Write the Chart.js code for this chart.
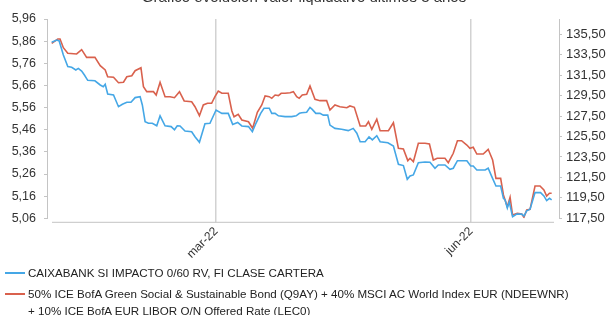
<!DOCTYPE html>
<html>
<head>
<meta charset="utf-8">
<script src="https://cdn.jsdelivr.net/npm/chart.js@4"></script>
<style>
  html, body { margin: 0; padding: 0; background: #fff; }
  body { width: 608px; height: 315px; overflow: hidden; position: relative; font-family: "Liberation Sans", Arial, sans-serif; }
  #wrap { position: absolute; left: 0; top: -11px; width: 608px; height: 280px; }
  #legend { position: absolute; left: 0; top: 264px; width: 608px; font-size: 11.6px; color: #222; }
  .item { position: relative; padding-left: 28px; line-height: 17px; margin-bottom: 4px; white-space: pre-line; }
  .swatch { position: absolute; left: 5px; top: 8px; width: 20px; height: 2px; }
</style>
</head>
<body>
<div id="wrap"><canvas id="chart" width="608" height="280"></canvas></div>
<div id="legend"></div>
<script>
// x = days since 1 Jan 2022
const xTickDays = [59, 151];
const xTickLabels = ["mar-22", "jun-22"];
const leftTicks = [5.06, 5.16, 5.26, 5.36, 5.46, 5.56, 5.66, 5.76, 5.86, 5.96];
const rightTicks = [117.5, 119.5, 121.5, 123.5, 125.5, 127.5, 129.5, 131.5, 133.5, 135.5];

const fundName = "CAIXABANK SI IMPACTO 0/60 RV, FI CLASE CARTERA";
const benchName = "50% ICE BofA Green Social & Sustainable Bond (Q9AY) + 40% MSCI AC World Index EUR (NDEEWNR)\n+ 10% ICE BofA EUR LIBOR O/N Offered Rate (LEC0)";

const fundDays = [-0.3,1.5,2.4,3.9,5.5,6.9,8.4,9.3,10.5,11.5,12.7,15.3,17.2,18.3,19.0,19.9,22.0,23.8,25.2,26.8,28.3,29.8,31.6,32.4,33.4,34.6,36.0,37.6,38.8,40.6,42.8,44.0,45.0,46.0,47.8,50.2,51.4,53.0,55.0,56.8,59.0,61.1,63.4,65.0,66.8,68.3,70.7,72.1,73.4,75.1,76.3,78.2,79.1,80.3,81.5,83.9,86.3,87.9,89.1,89.9,91.7,92.9,93.7,95.0,96.5,97.7,99.3,100.1,101.9,104.3,106.7,108.5,109.8,111.0,112.8,114.2,115.4,117.0,118.2,121.0,123.0,124.8,126.6,128.0,129.0,130.2,132.0,134.4,136.2,138.0,139.2,141.6,143.4,144.6,146.1,149.5,150.9,151.8,153.1,156.1,157.2,158.5,160.0,161.7,162.7,163.3,164.1,164.8,166.0,167.5,169.3,170.1,171.1,172.3,174.1,176.1,177.3,178.3,179.3,180.1];
const fundValues = [5.855,5.865,5.861,5.797,5.745,5.742,5.730,5.737,5.725,5.707,5.683,5.681,5.662,5.654,5.665,5.621,5.617,5.564,5.575,5.584,5.584,5.605,5.609,5.572,5.496,5.489,5.489,5.478,5.523,5.478,5.474,5.460,5.478,5.477,5.454,5.451,5.428,5.403,5.487,5.489,5.549,5.534,5.534,5.484,5.493,5.477,5.474,5.451,5.489,5.534,5.557,5.557,5.534,5.534,5.523,5.519,5.519,5.523,5.534,5.537,5.539,5.561,5.552,5.534,5.534,5.526,5.526,5.481,5.466,5.462,5.456,5.466,5.444,5.406,5.406,5.428,5.414,5.433,5.406,5.401,5.386,5.304,5.298,5.236,5.251,5.256,5.311,5.314,5.313,5.286,5.301,5.301,5.281,5.286,5.320,5.320,5.296,5.296,5.278,5.278,5.286,5.248,5.206,5.206,5.150,5.143,5.107,5.134,5.067,5.079,5.079,5.070,5.094,5.101,5.176,5.176,5.161,5.140,5.150,5.143];

const benchDays = [-0.3,1.9,2.7,3.9,5.5,8.7,10.5,12.3,15.3,17.2,19.0,19.9,22.0,23.8,25.6,26.8,28.6,29.8,31.9,32.8,34.0,36.4,37.4,38.8,40.6,42.4,44.0,45.8,47.5,50.2,51.4,53.0,54.4,55.9,57.4,58.6,59.8,61.1,63.4,64.7,65.5,67.0,68.3,70.7,72.2,73.9,75.5,76.7,78.2,79.1,80.3,81.5,82.5,83.9,85.7,86.9,88.1,89.0,90.1,91.7,92.9,94.7,96.5,98.9,100.1,101.9,103.7,106.2,107.3,108.9,111.0,113.0,114.0,115.2,117.0,118.2,121.2,123.0,124.8,126.6,128.2,129.0,130.2,132.0,134.4,136.0,137.4,138.8,141.6,142.8,144.6,146.1,147.6,149.5,150.6,151.8,153.1,155.4,157.2,158.8,160.0,161.7,162.7,164.1,165.1,166.0,167.7,169.3,170.1,171.1,172.3,174.1,175.9,177.3,178.3,179.3,180.1];
const benchValues = [134.62,135.04,135.04,134.19,133.64,133.58,134.00,133.25,133.25,132.43,132.01,131.35,131.30,130.77,130.81,131.35,131.45,131.94,132.23,130.38,129.89,129.89,129.56,130.81,129.40,129.40,129.30,129.89,128.98,128.91,128.42,127.54,128.59,128.75,128.75,129.40,129.95,129.73,129.73,128.00,127.44,127.68,127.12,126.95,126.31,127.87,128.59,129.47,129.40,129.24,129.56,129.50,129.73,129.73,129.79,129.89,129.40,129.24,129.56,129.63,130.44,129.14,129.01,129.01,128.10,128.59,128.42,128.32,128.49,128.36,126.53,126.53,126.95,126.21,127.19,126.07,126.07,126.85,124.35,124.28,123.14,123.37,123.04,124.84,124.84,124.77,123.20,123.37,123.37,122.94,123.86,125.09,125.09,124.67,124.35,124.45,123.79,123.79,124.25,123.20,121.41,121.41,119.78,118.63,119.55,117.82,117.99,117.92,117.60,118.31,118.38,120.66,120.66,120.27,119.68,119.95,119.95];

const fundColor = "#45a7e6";
const benchColor = "#d9614d";
const axisColor = "#c4c4c4";
const textColor = "#333";
const font = "'Liberation Sans', Arial, sans-serif";

const comma = v => v.toFixed(2).replace(".", ",");

// x axis line sits a bit below the plot, as in the original
const xAxisLine = {
    id: "xAxisLine",
    afterDraw(chart) {
        const { ctx, chartArea } = chart;
        ctx.save();
        ctx.strokeStyle = axisColor;
        ctx.lineWidth = 1;
        ctx.beginPath();
        ctx.moveTo(chartArea.left + 5, chartArea.bottom + 4);
        ctx.lineTo(chartArea.right - 5, chartArea.bottom + 4);
        ctx.stroke();
        ctx.restore();
    }
};

new Chart(document.getElementById("chart"), {
    type: "line",
    data: {
        datasets: [{
            label: fundName,
            data: fundDays.map((d, i) => ({ x: d, y: fundValues[i] })),
            borderColor: fundColor,
            borderWidth: 1.6,
            pointRadius: 0,
            tension: 0,
            yAxisID: "y"
        }, {
            label: benchName,
            data: benchDays.map((d, i) => ({ x: d, y: benchValues[i] })),
            borderColor: benchColor,
            borderWidth: 1.6,
            pointRadius: 0,
            tension: 0,
            yAxisID: "y2"
        }]
    },
    options: {
        responsive: false,
        animation: false,
        layout: { padding: 0 },
        plugins: {
            legend: { display: false },
            tooltip: { enabled: false },
            title: {
                display: true,
                text: "Gráfico evolución valor liquidativo últimos 3 años",
                color: textColor,
                font: { family: font, size: 15, weight: "normal" },
                padding: { top: 0, bottom: 12 }
            }
        },
        scales: {
            x: {
                type: "linear",
                min: -2,
                max: 182.75,
                afterBuildTicks: s => { s.ticks = xTickDays.map(v => ({ value: v })); },
                afterFit: s => { s.height = 50.7; },
                ticks: {
                    autoSkip: false,
                    minRotation: 45,
                    maxRotation: 45,
                    padding: 2,
                    color: textColor,
                    font: { family: font, size: 12 },
                    callback: v => xTickLabels[xTickDays.indexOf(v)]
                },
                grid: { color: "#d2d2d2", lineWidth: 1.5, drawTicks: true, tickLength: 4 },
                border: { display: false }
            },
            y: {
                position: "left",
                min: 5.06,
                max: 5.96,
                afterBuildTicks: s => { s.ticks = leftTicks.map(v => ({ value: v })); },
                afterFit: s => { s.width = 47; },
                ticks: {
                    padding: 8,
                    color: textColor,
                    font: { family: font, size: 12.5 },
                    callback: v => comma(v)
                },
                grid: { drawOnChartArea: false, drawTicks: true, tickLength: 3, color: axisColor },
                border: { color: axisColor }
            },
            y2: {
                position: "right",
                min: 117.5,
                max: 137.0,
                afterBuildTicks: s => { s.ticks = rightTicks.map(v => ({ value: v })); },
                afterFit: s => { s.width = 49; },
                ticks: {
                    padding: 4,
                    color: textColor,
                    font: { family: font, size: 13 },
                    callback: v => comma(v)
                },
                grid: { drawOnChartArea: false, drawTicks: true, tickLength: 3, color: axisColor },
                border: { color: axisColor }
            }
        }
    },
    plugins: [xAxisLine]
});

// legend below the chart
const legend = document.getElementById("legend");
[[fundName, fundColor], [benchName, benchColor]].forEach(([name, color]) => {
    const item = document.createElement("div");
    item.className = "item";
    const sw = document.createElement("span");
    sw.className = "swatch";
    sw.style.background = color;
    item.appendChild(sw);
    item.appendChild(document.createTextNode(name));
    legend.appendChild(item);
});
</script>
</body>
</html>
